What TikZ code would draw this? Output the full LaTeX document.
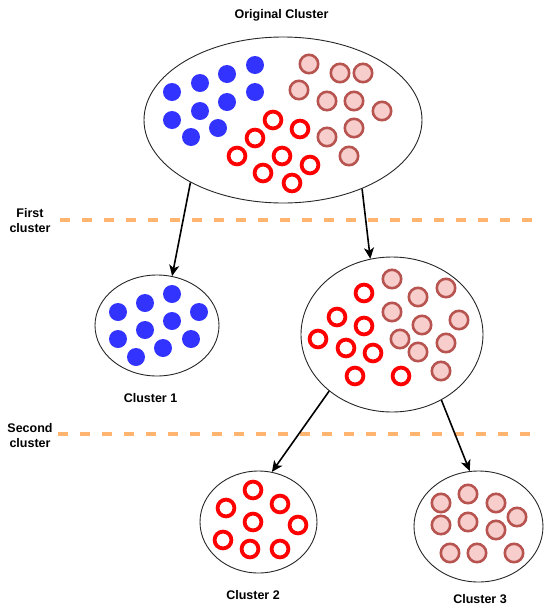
\documentclass[tikz,border=0pt]{standalone}
\usepackage{fontspec}
\setmainfont{Liberation Sans}
\usetikzlibrary{shapes.geometric,arrows.meta}
\definecolor{bluedot}{HTML}{3333FF}
\definecolor{ringred}{HTML}{FF0000}
\definecolor{pinkfill}{HTML}{F8CECC}
\definecolor{pinkline}{HTML}{B85450}
\definecolor{sepor}{HTML}{FFB570}
\begin{document}
\begin{tikzpicture}[x=1pt,y=-1pt,
  clus/.style={ellipse, draw=black!85, line width=0.9pt, inner sep=0pt},
  lbl/.style={font=\fontsize{12.5}{15}\selectfont\bfseries, text=black, align=center, inner sep=0pt},
  arr/.style={line width=1.6pt, -{Stealth[length=11pt,width=10pt,inset=3pt]}},
  sepline/.style={line width=3.5pt, draw=sepor, dash pattern=on 10pt off 12pt},
  bdot/.style={fill=bluedot},
  rring/.style={draw=ringred, line width=3.8pt},
  pdot/.style={fill=pinkfill, draw=pinkline, line width=2.6pt},
]
\useasboundingbox (0,0) rectangle (550,614);

% cluster outlines
\node[clus, minimum width=278pt, minimum height=166pt] (orig) at (283,120) {};
\node[clus, minimum width=124pt, minimum height=101pt] (c1) at (157,325.5) {};
\node[clus, minimum width=182pt, minimum height=155pt] (c23) at (392,334.5) {};
\node[clus, minimum width=117pt, minimum height=102pt] (c2) at (258.5,522) {};
\node[clus, minimum width=129pt, minimum height=111pt] (c3) at (478.5,526.5) {};

% original cluster points
\foreach \p in {(255,65),(227,74),(200,83),(172,92),(255,92),(227,102),(200,111),(172,120),(218,128),(191,137)}
  \fill[bdot] \p circle[radius=9pt];
\foreach \p in {(273,120),(300,129),(255,138),(237,156),(282,156),(310,165),(263,173),(292,183)}
  \draw[rring] \p circle[radius=8.4pt];
\foreach \p in {(309,64),(340,73),(363,73),(299,90),(327,101),(354,101),(382,111),(354,128),(327,137),(349,156)}
  \draw[pdot] \p circle[radius=9.2pt];

% cluster 1
\foreach \p in {(172,294),(145,303),(118,312),(199,312),(172,321),(145,330),(118,339),(191,339),(163,348),(136,357)}
  \fill[bdot] \p circle[radius=9pt];

% cluster 2+3 (intermediate)
\foreach \p in {(364,293),(337,317),(364,326),(318,339),(346,348),(373,353),(355,376),(401,376)}
  \draw[rring] \p circle[radius=8.4pt];
\foreach \p in {(392,279),(446,288),(418,297),(392,312),(459,320),(422,325),(400,339),(446,343),(418,352),(441,371)}
  \draw[pdot] \p circle[radius=9.2pt];

% cluster 2
\foreach \p in {(253,490),(226,508),(280,504),(253,522),(298,525),(223,540),(250,549),(280,549)}
  \draw[rring] \p circle[radius=8.4pt];

% cluster 3
\foreach \p in {(441,503),(468,494),(496,503),(517,517),(441,525),(468,522),(496,530),(450,553),(477,553),(514,553)}
  \draw[pdot] \p circle[radius=9.2pt];

% separators
\coordinate (s1a) at (60,220);
\coordinate (s1b) at (535,220);
\coordinate (s2a) at (58,434);
\coordinate (s2b) at (530,434);
\draw[sepline] (s1a) -- (s1b);
\draw[sepline] (s2a) -- (s2b);

% arrows
\draw[arr] (orig.214) -- (c1.73);
\draw[arr] (orig.319) -- (c23.106);
\draw[arr] (c23.222) -- (c2.75);
\draw[arr] (c23.307) -- (c3.99);

% labels
\node[lbl] (tO) at (281.5,15) {Original Cluster};
\node[lbl] (t1) at (150.5,398) {Cluster 1};
\node[lbl] (t2) at (253,595) {Cluster 2};
\node[lbl] (t3) at (480,599) {Cluster 3};
\node[lbl] (tf) at (30,220.5) {First\\cluster};
\node[lbl] (ts) at (30,435.5) {Second\\cluster};
\end{tikzpicture}
\end{document}
